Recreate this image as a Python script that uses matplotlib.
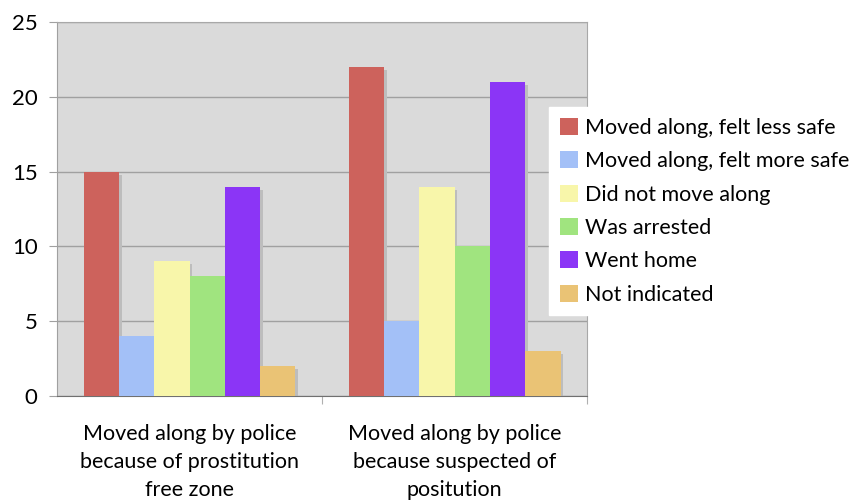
import numpy as np
import matplotlib.pyplot as plt
from matplotlib.patches import Patch

groups = ["Moved along by police\nbecause of prostitution\nfree zone",
          "Moved along by police\nbecause suspected of\npositution"]
series = ["Moved along, felt less safe", "Moved along, felt more safe",
          "Did not move along", "Was arrested", "Went home", "Not indicated"]
values = [
    [15, 22],
    [4, 5],
    [9, 14],
    [8, 10],
    [14, 21],
    [2, 3],
]
colors = ["#CD625C", "#A3C0F7", "#F8F6AA", "#A0E47F", "#8B35F6", "#EAC375"]

plt.rcParams['font.family'] = ['Lato', 'DejaVu Sans']

fig = plt.figure(figsize=(8.68, 5.04), dpi=100)
ax = fig.add_axes([57 / 868, 1 - 396 / 504, 530 / 868, 374 / 504])
ax.set_facecolor("#DADADA")

x = np.arange(len(groups))
n = len(series)
w = 0.8 / n
dx, dy = 0.011, 0.2
for i, (vals, c) in enumerate(zip(values, colors)):
    pos = x - 0.4 + w * (i + 0.5)
    # soft shadow behind each bar
    ax.bar(pos + dx, np.array(vals) - dy, w, color="#BDBDBD", zorder=2)
    ax.bar(pos, vals, w, color=c, zorder=3)

ax.set_xlim(-0.5, 1.5)
ax.set_ylim(0, 25)
ax.set_yticks(range(0, 26, 5))
ax.yaxis.grid(True, color="#A0A0A0", linewidth=1)
ax.set_axisbelow(True)
ax.set_xticks([0.5, 1.5])
ax.set_xticklabels([])
ax.set_xticks(x, minor=True)
ax.set_xticklabels(groups, minor=True, fontsize=15.5, linespacing=1.5)
ax.tick_params(axis="x", which="minor", length=0, pad=20)
ax.tick_params(axis="x", which="major", length=6, color="#B0B0B0")
ax.tick_params(axis="y", length=6, color="#A0A0A0", labelsize=16, pad=8)

for s in ["top", "right"]:
    ax.spines[s].set_color("#A8A8A8")
ax.spines["left"].set_color("#A0A0A0")
ax.spines["bottom"].set_color("#707070")

handles = [Patch(facecolor=c, edgecolor="none") for c in colors]
leg = fig.legend(handles, series, loc="upper left",
                 bbox_to_anchor=(549 / 868, 1 - 107 / 504),
                 fontsize=15.5, frameon=True, fancybox=False,
                 handlelength=0.85, handleheight=0.85, handletextpad=0.3,
                 labelspacing=0.62, borderpad=0.5, borderaxespad=0)
leg.get_frame().set_edgecolor("white")
leg.get_frame().set_facecolor("white")
leg.get_frame().set_alpha(1)

fig.savefig("out.png", dpi=100)
